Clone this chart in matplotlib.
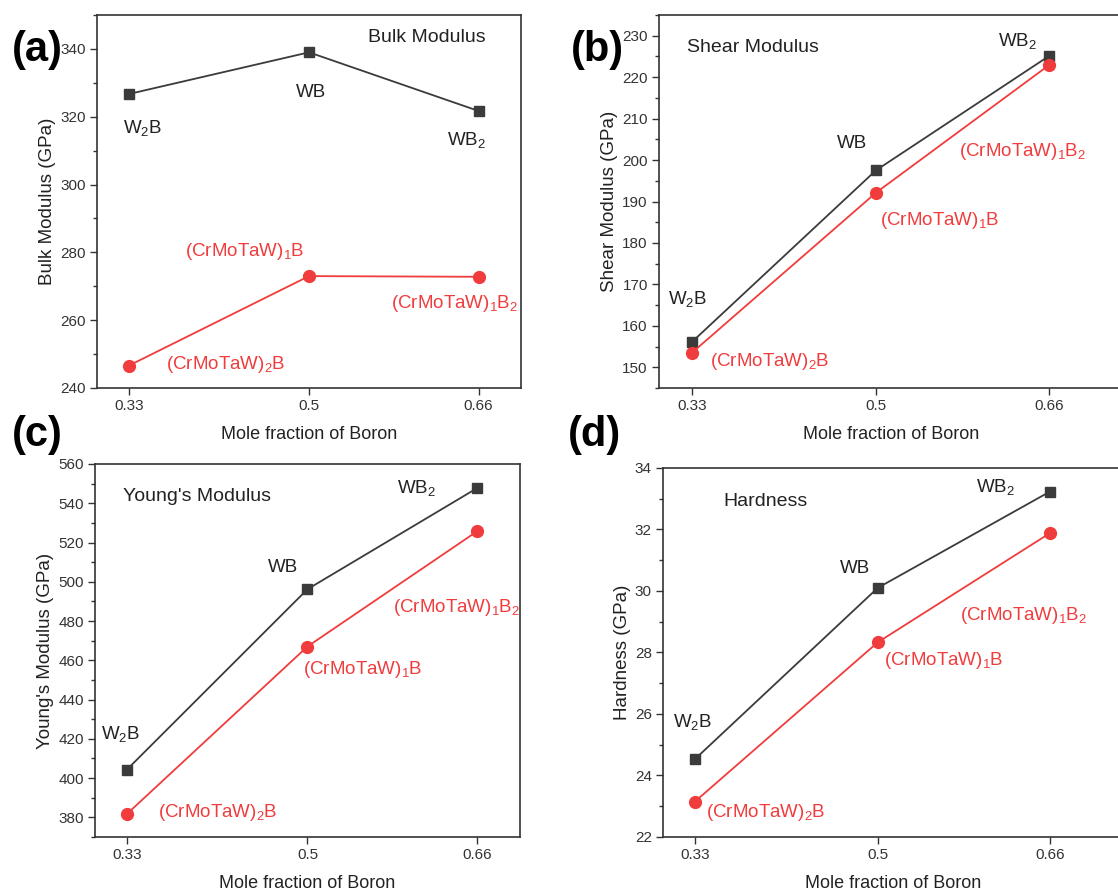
import matplotlib
matplotlib.use("Agg")
import matplotlib.pyplot as plt
from matplotlib.ticker import MultipleLocator

plt.rcParams['font.family'] = ['Liberation Sans', 'DejaVu Sans']
plt.rcParams['mathtext.default'] = 'regular'

# x positions (mole fraction of boron)
boron = [0.33, 0.5, 0.66]
tick_labels = ['0.33', '0.5', '0.66']

# tungsten borides (black squares)
bulk_w = [326.7, 339.0, 321.7]
shear_w = [156.1, 197.5, 225.1]
young_w = [404.3, 496.2, 547.8]
hard_w = [24.53, 30.1, 33.23]

# (CrMoTaW) borides (red circles)
bulk_hea = [246.6, 273.0, 272.8]
shear_hea = [153.5, 192.1, 222.9]
young_hea = [381.7, 467.0, 525.8]
hard_hea = [23.15, 28.33, 31.88]

w_names = ['W$_2$B', 'WB', 'WB$_2$']
hea_names = ['(CrMoTaW)$_2$B', '(CrMoTaW)$_1$B', '(CrMoTaW)$_1$B$_2$']

BLACK = '#3b3b3b'
RED = '#f03c3c'

fig = plt.figure(figsize=(11.18, 8.94), dpi=100)

# panel setup: axes rect, ylim, major/minor step, ylabel, title, title pos, panel letter pos,
# label offsets (pixels) for black then red points, xlim
panels = [
    dict(rect=[0.0868, 0.566, 0.3792, 0.4172], ylim=(240, 350), major=20, minor=10,
         ylabel='Bulk Modulus (GPa)', title='Bulk Modulus', tpos=(0.778, 0.941),
         letter='(a)', lpos=(0.033, 0.944), xlim=(0.30, 0.70),
         w=bulk_w, h=bulk_hea,
         woff=[(14, -34), (2, -40), (-12, -29)], hoff=[(97, 1), (-64, 25), (-24, -27)]),
    dict(rect=[0.5894, 0.566, 0.4159, 0.4172], ylim=(145, 235), major=10, minor=5,
         ylabel='Shear Modulus (GPa)', title='Shear Modulus', tpos=(0.203, 0.912),
         letter='(b)', lpos=(0.534, 0.944), xlim=(0.2995, 0.7293),
         w=shear_w, h=shear_hea,
         woff=[(-4, 43), (-24, 27), (-31, 15)], hoff=[(78, -9), (64, -28), (-26, -86)]),
    dict(rect=[0.085, 0.0638, 0.380, 0.4172], ylim=(370, 560), major=20, minor=10,
         ylabel="Young's Modulus (GPa)", title="Young's Modulus", tpos=(0.24, 0.912),
         letter='(c)', lpos=(0.033, 0.513), xlim=(0.30, 0.70),
         w=young_w, h=young_hea,
         woff=[(-6, 36), (-24, 22), (-61, 0)], hoff=[(91, 1), (55, -23), (-21, -76)]),
    dict(rect=[0.593, 0.0638, 0.4123, 0.4128], ylim=(22, 34), major=2, minor=1,
         ylabel='Hardness (GPa)', title='Hardness', tpos=(0.223, 0.908),
         letter='(d)', lpos=(0.532, 0.513), xlim=(0.3003, 0.7288),
         w=hard_w, h=hard_hea,
         woff=[(-2, 37), (-23, 19), (-54, 5)], hoff=[(71, -11), (66, -18), (-26, -82)]),
]

for p in panels:
    ax = fig.add_axes(p['rect'])
    ax.plot(boron, p['w'], color=BLACK, lw=1.3, marker='s', ms=7.5, mfc=BLACK, mec=BLACK)
    ax.plot(boron, p['h'], color=RED, lw=1.3, marker='o', ms=8.5, mfc=RED, mec=RED)

    for x, y, name, off in zip(boron, p['w'], w_names, p['woff']):
        ax.annotate(name, (x, y), xytext=off, textcoords='offset pixels',
                    ha='center', va='center', fontsize=13.5, color='#222222',
                    annotation_clip=False)
    for x, y, name, off in zip(boron, p['h'], hea_names, p['hoff']):
        ax.annotate(name, (x, y), xytext=off, textcoords='offset pixels',
                    ha='center', va='center', fontsize=13.5, color=RED,
                    annotation_clip=False)

    ax.text(p['tpos'][0], p['tpos'][1], p['title'], transform=ax.transAxes,
            ha='center', va='center', fontsize=14, color='#222222')

    ax.set_xlim(p['xlim'])
    ax.set_ylim(p['ylim'])
    ax.set_xticks(boron)
    ax.set_xticklabels(tick_labels)
    ax.yaxis.set_major_locator(MultipleLocator(p['major']))
    ax.yaxis.set_minor_locator(MultipleLocator(p['minor']))
    ax.tick_params(axis='both', which='major', direction='out', length=5, width=1,
                   labelsize=11, colors='#333333', pad=3)
    ax.tick_params(axis='y', which='minor', direction='out', length=3, width=1, colors='#333333')
    ax.tick_params(axis='x', which='minor', bottom=False)
    for s in ax.spines.values():
        s.set_linewidth(1.2)
        s.set_color('#333333')
    ax.set_xlabel('Mole fraction of Boron', fontsize=13, labelpad=9, color='#222222')
    ax.set_ylabel(p['ylabel'], fontsize=13.5, labelpad=3, color='#222222')

    fig.text(p['lpos'][0], p['lpos'][1], p['letter'], fontsize=30, fontweight='bold',
             ha='center', va='center')

fig.savefig('out.png', dpi=100)
